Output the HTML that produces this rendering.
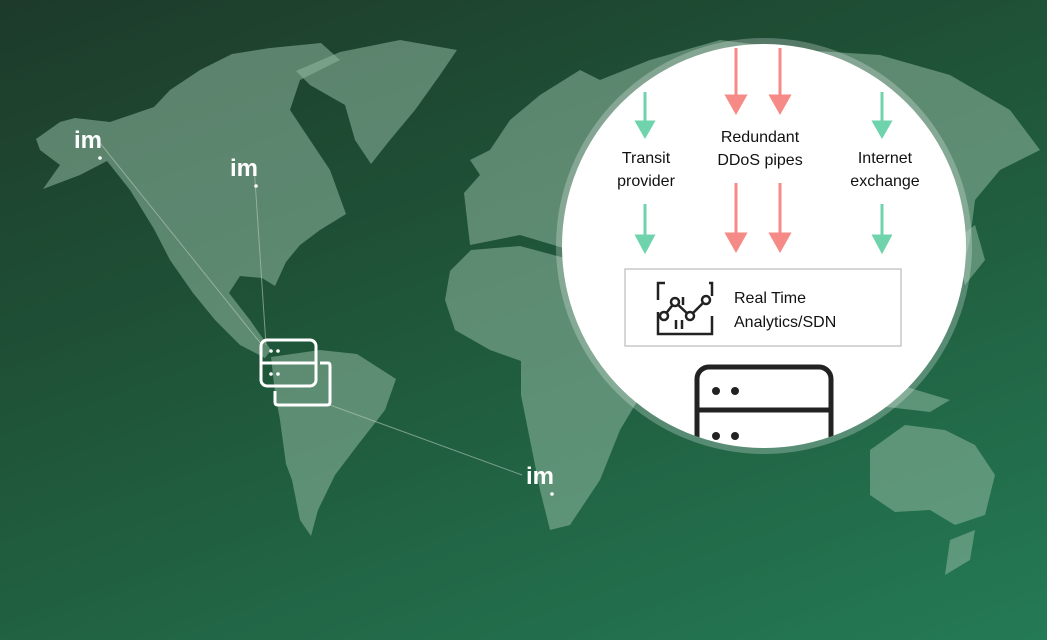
<!DOCTYPE html>
<html><head><meta charset="utf-8"><style>
html,body{margin:0;padding:0;}
body{width:1047px;height:640px;overflow:hidden;background:linear-gradient(160deg,#1d3a2a 0%,#1f5639 45%,#247a55 100%);font-family:"Liberation Sans",sans-serif;position:relative;}
svg{position:absolute;left:0;top:0;}
</style></head><body>
<svg width="1047" height="640" viewBox="0 0 1047 640">
<defs>
<marker id="g" markerWidth="10" markerHeight="10" refX="5" refY="8" orient="auto" markerUnits="userSpaceOnUse"></marker>
<clipPath id="cc"><circle cx="764" cy="246" r="202"/></clipPath>
</defs>
<g fill="#8fb8a0" fill-opacity="0.55">
<!-- North America -->
<path d="M36,139 L60,122 L75,118 L110,122 L154,107 L170,90 L200,70 L232,54 L270,48 L321,43 L340,60 L300,80 L290,110 L310,140 L330,170 L346,214 L320,230 L300,245 L286,262 L275,286 L262,278 L240,276 L229,293 L250,320 L271,350 L265,358 L240,345 L215,320 L193,293 L170,260 L154,229 L130,190 L107,161 L80,175 L43,189 L60,165 L40,150 Z"/>
<!-- Greenland -->
<path d="M296,71 L340,52 L400,40 L457,50 L440,75 L415,110 L390,140 L371,164 L355,140 L345,105 L310,85 Z"/>
<!-- South America -->
<path d="M271,357 L320,350 L357,354 L396,379 L385,410 L357,446 L335,475 L318,510 L311,536 L300,520 L292,480 L286,464 L280,420 L275,393 Z"/>
<!-- Europe -->
<path d="M464,193 L480,175 L470,160 L490,150 L510,120 L540,95 L580,70 L600,80 L600,240 L570,250 L520,235 L470,245 Z"/>
<!-- Africa -->
<path d="M450,271 L471,250 L520,246 L561,257 L600,270 L625,300 L640,340 L650,380 L620,430 L600,480 L570,525 L550,530 L540,490 L530,440 L521,395 L521,361 L490,350 L455,330 L445,300 Z"/>
<!-- Asia -->
<path d="M600,80 L650,60 L720,40 L800,50 L880,55 L950,75 L1010,110 L1040,150 L1000,170 L975,200 L970,240 L960,280 L930,300 L900,330 L870,360 L850,330 L820,330 L790,360 L760,330 L720,300 L680,290 L640,300 L620,270 L600,240 Z"/>
<path d="M955,240 L975,225 L985,260 L965,285 Z"/>
<!-- Indonesia -->
<path d="M840,390 L900,385 L950,400 L930,412 L870,405 Z"/>
<!-- Australia -->
<path d="M870,450 L905,425 L945,430 L975,445 L995,475 L985,515 L955,525 L930,510 L895,512 L870,495 Z"/>
<path d="M950,540 L975,530 L970,560 L945,575 Z"/>
</g>
<g stroke="#b8c9bd" stroke-opacity="0.6" stroke-width="1" fill="none">
<line x1="96" y1="138" x2="262" y2="345"/>
<line x1="254" y1="165" x2="266" y2="345"/>
<line x1="330" y1="405" x2="522" y2="475"/>
</g>
<g fill="#fff" font-weight="bold" font-size="24">
<text x="74" y="148">im</text><circle cx="100" cy="158" r="1.8"/>
<text x="230" y="176">im</text><circle cx="256" cy="186" r="1.8"/>
<text x="526" y="484">im</text><circle cx="552" cy="494" r="1.8"/>
</g>
<!-- server icon on map -->
<g stroke="#fff" stroke-width="3" fill="none">
<rect x="261" y="340" width="55" height="46" rx="6"/>
<line x1="261" y1="363" x2="316" y2="363"/>
<path d="M320,363 L328,363 Q330,363 330,366 L330,402 Q330,405 327,405 L278,405 Q275,405 275,402 L275,391"/>
</g>
<g fill="#fff"><circle cx="271" cy="351" r="1.8"/><circle cx="278" cy="351" r="1.8"/><circle cx="271" cy="374" r="1.8"/><circle cx="278" cy="374" r="1.8"/></g>
<!-- big circle -->
<circle cx="764" cy="246" r="208" fill="#ffffff" fill-opacity="0.25"/>
<circle cx="764" cy="246" r="202" fill="#ffffff"/>
<g clip-path="url(#cc)">
<g stroke-width="3" fill="none">
<g stroke="#6fd3ac">
<line x1="645" y1="92" x2="645" y2="132"/><path d="M637,122 L645,136 L653,122 Z" fill="#6fd3ac"/>
<line x1="645" y1="204" x2="645" y2="246"/><path d="M637,236 L645,251 L653,236 Z" fill="#6fd3ac"/>
<line x1="882" y1="92" x2="882" y2="132"/><path d="M874,122 L882,136 L890,122 Z" fill="#6fd3ac"/>
<line x1="882" y1="204" x2="882" y2="246"/><path d="M874,236 L882,251 L890,236 Z" fill="#6fd3ac"/>
</g>
<g stroke="#f58a86">
<line x1="736" y1="48" x2="736" y2="106"/><path d="M727,96 L736,112 L745,96 Z" fill="#f58a86"/>
<line x1="780" y1="48" x2="780" y2="106"/><path d="M771,96 L780,112 L789,96 Z" fill="#f58a86"/>
<line x1="736" y1="183" x2="736" y2="244"/><path d="M727,234 L736,250 L745,234 Z" fill="#f58a86"/>
<line x1="780" y1="183" x2="780" y2="244"/><path d="M771,234 L780,250 L789,234 Z" fill="#f58a86"/>
</g>
</g>
<g font-size="16" fill="#111" text-anchor="middle">
<text x="646" y="163">Transit</text><text x="646" y="186">provider</text>
<text x="760" y="142">Redundant</text><text x="760" y="165">DDoS pipes</text>
<text x="885" y="163">Internet</text><text x="885" y="186">exchange</text>
</g>
<rect x="625" y="269" width="276" height="77" fill="#fff" stroke="#bbb" stroke-width="1.2"/>
<g stroke="#222" stroke-width="2.5" fill="none">
<path d="M665,283 L658,283 L658,300 M709,283 L712,283 L712,296 M658,312 L658,334 L712,334 L712,316"/>
<path d="M664,316 L675,302 L690,316 L706,300"/>
<circle cx="664" cy="316" r="4" fill="#fff"/><circle cx="675" cy="302" r="4" fill="#fff"/><circle cx="690" cy="316" r="4" fill="#fff"/><circle cx="706" cy="300" r="4" fill="#fff"/>
<line x1="683" y1="305" x2="683" y2="297"/><line x1="676" y1="320" x2="676" y2="329"/><line x1="682" y1="320" x2="682" y2="329"/>
</g>
<g font-size="16" fill="#111"><text x="734" y="303">Real Time</text><text x="734" y="327">Analytics/SDN</text></g>
<g stroke="#222" stroke-width="5" fill="none">
<rect x="697" y="367" width="134" height="140" rx="12"/>
<line x1="697" y1="410" x2="831" y2="410"/>
</g>
<g fill="#222"><circle cx="716" cy="391" r="4"/><circle cx="735" cy="391" r="4"/><circle cx="716" cy="436" r="4"/><circle cx="735" cy="436" r="4"/></g>
</g>
</svg>
</body></html>
